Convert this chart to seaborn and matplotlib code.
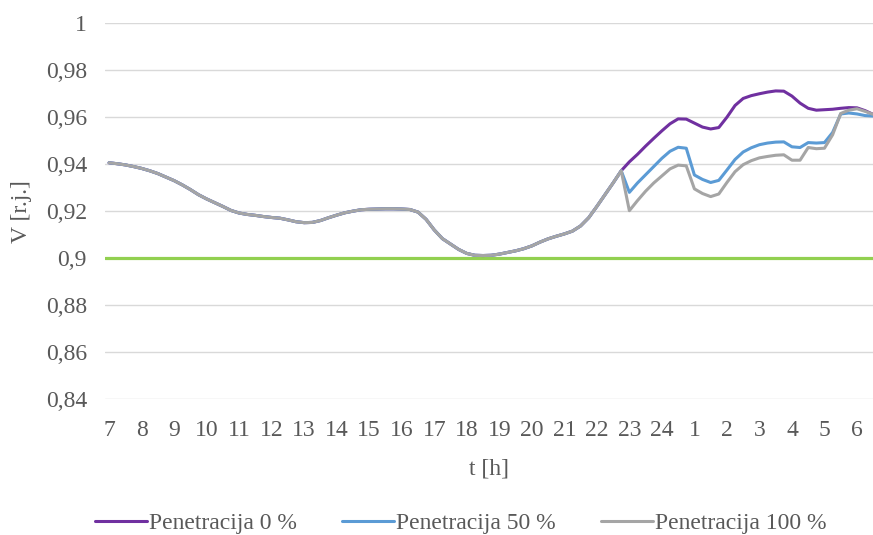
import numpy as np
import pandas as pd
import matplotlib
matplotlib.use("Agg")
import matplotlib.pyplot as plt
from matplotlib.lines import Line2D
import seaborn as sns

# Voltage profile, 15-minute steps starting at 7:00
hour_labels = ["7", "8", "9", "10", "11", "12", "13", "14", "15", "16", "17", "18",
               "19", "20", "21", "22", "23", "24", "1", "2", "3", "4", "5", "6"]

# common part of all three scenarios (7:00 - 22:45)
base = [0.9406, 0.9402, 0.9397, 0.9390, 0.9382, 0.9372, 0.9360, 0.9345,
        0.9330, 0.9312, 0.9292, 0.9270, 0.9252, 0.9236, 0.9220, 0.9203,
        0.9192, 0.9186, 0.9182, 0.9177, 0.9173, 0.9170, 0.9163, 0.9155,
        0.9151, 0.9152, 0.9160, 0.9172, 0.9183, 0.9193, 0.9200, 0.9206,
        0.9208, 0.9209, 0.9210, 0.9210, 0.9209, 0.9207, 0.9196, 0.9165,
        0.9120, 0.9083, 0.9060, 0.9037, 0.9020, 0.9012, 0.9011, 0.9012,
        0.9017, 0.9024, 0.9031, 0.9040, 0.9052, 0.9068, 0.9082, 0.9093,
        0.9103, 0.9115, 0.9137, 0.9172, 0.9220, 0.9270, 0.9320, 0.9372]

# night part (23:00 onwards) per penetration level
tail_0 = [0.9410, 0.9442, 0.9477, 0.9510, 0.9542, 0.9572, 0.9593, 0.9592,
          0.9575, 0.9558, 0.9550, 0.9556, 0.9600, 0.9650, 0.9680, 0.9692,
          0.9700, 0.9707, 0.9712, 0.9711, 0.9690, 0.9660, 0.9638, 0.9630,
          0.9632, 0.9634, 0.9638, 0.9641, 0.9640, 0.9628, 0.9612]
tail_50 = [0.9280, 0.9320, 0.9355, 0.9390, 0.9425, 0.9455, 0.9472, 0.9468,
           0.9354, 0.9335, 0.9322, 0.9331, 0.9375, 0.9420, 0.9452, 0.9470,
           0.9483, 0.9490, 0.9494, 0.9495, 0.9474, 0.9471, 0.9492, 0.9490,
           0.9492, 0.9535, 0.9614, 0.9618, 0.9614, 0.9607, 0.9605]
tail_100 = [0.9202, 0.9245, 0.9285, 0.9320, 0.9350, 0.9380, 0.9396, 0.9393,
            0.9295, 0.9275, 0.9262, 0.9273, 0.9322, 0.9368, 0.9398, 0.9415,
            0.9427, 0.9433, 0.9438, 0.9440, 0.9417, 0.9417, 0.9471, 0.9466,
            0.9468, 0.9525, 0.9616, 0.9630, 0.9636, 0.9625, 0.9612]

series_names = ["Penetracija 0 %", "Penetracija 50 %", "Penetracija 100 %"]
series_colors = ["#7030A0", "#5B9BD5", "#A5A5A5"]
limit_value = 0.9

y_ticks = [0.84, 0.86, 0.88, 0.90, 0.92, 0.94, 0.96, 0.98, 1.00]
y_tick_labels = ["0,84", "0,86", "0,88", "0,9", "0,92", "0,94", "0,96", "0,98", "1"]

frames = []
for name, tail in zip(series_names, [tail_0, tail_50, tail_100]):
    vals = base + tail
    frames.append(pd.DataFrame({"step": np.arange(len(vals)), "V": vals, "serija": name}))
df = pd.concat(frames, ignore_index=True)

sns.set_theme(style="white")
plt.rcParams["font.family"] = ["Liberation Serif", "DejaVu Serif"]
plt.rcParams["text.color"] = "#595959"

W, H = 873, 535
FS = 17
fig = plt.figure(figsize=(W / 100, H / 100), dpi=100)
ax = fig.add_axes([105 / W, 1 - 399 / H, 1 - 105 / W, (399 - 23.3) / H])

for y in y_ticks:
    ax.axhline(y, color="#D9D9D9", lw=1.0, zorder=0)
ax.axhline(limit_value, color="#92D050", lw=2.3, zorder=1)

palette = dict(zip(series_names, series_colors))
sns.lineplot(data=df, x="step", y="V", hue="serija", palette=palette,
             hue_order=series_names, linewidth=2.2, ax=ax, legend=False,
             zorder=3)

step_per_hour = 4
ax.set_xticks(np.arange(len(hour_labels)) * step_per_hour)
ax.set_xticklabels(hour_labels)
ax.set_xlim(-0.5, 93.97)
ax.set_ylim(0.84, 1.0)
ax.set_yticks(y_ticks)
ax.set_yticklabels(y_tick_labels)
ax.tick_params(axis="both", length=0, labelsize=FS, labelcolor="#595959")
ax.tick_params(axis="x", pad=15)
ax.tick_params(axis="y", pad=13)
for s in ax.spines.values():
    s.set_visible(False)

ax.set_xlabel("t [h]", fontsize=FS, color="#595959", labelpad=13)
ax.set_ylabel("V [r.j.]", fontsize=FS, color="#595959", labelpad=9.5)

handles = [Line2D([0], [0], color=c, lw=2.2) for c in series_colors]
fig.legend(handles, series_names, loc="lower center", bbox_to_anchor=(0.528, -0.038),
           ncol=3, frameon=False, fontsize=FS, handlelength=2.2, handletextpad=0.1,
           columnspacing=1.9, labelcolor="#595959")

fig.savefig("out.png", dpi=100)
